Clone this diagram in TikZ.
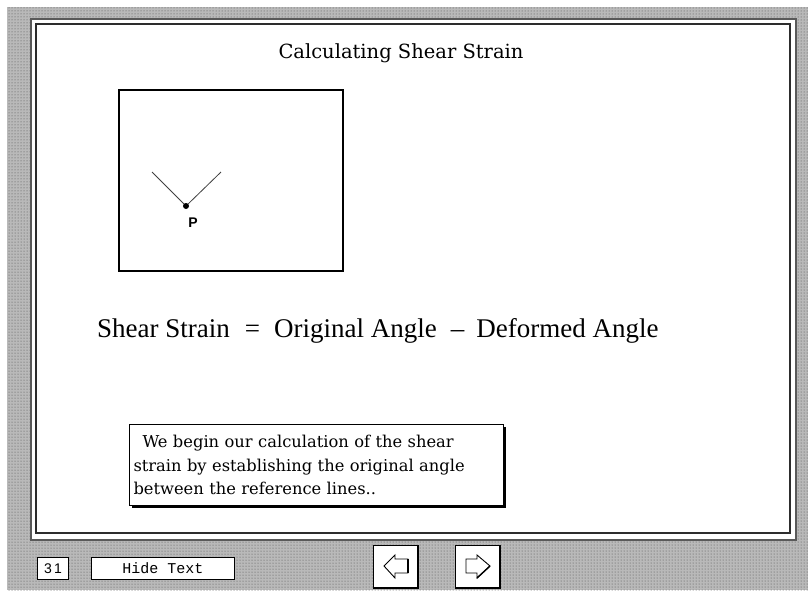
\documentclass[tikz,border=0pt]{standalone}
\usepackage{fontspec}
\setmainfont{DejaVu Serif}
\newfontfamily\eqnfont{Liberation Serif}
\setsansfont{Liberation Sans}
\setmonofont{Liberation Mono}
\usetikzlibrary{patterns}

\tikzset{
  btn/.style={draw,line width=1pt,fill=white,inner sep=0pt,anchor=north west},
  navbtn/.style={btn,minimum width=44,minimum height=42},
  arrowshape/.style={draw,fill=white,line width=0.9pt,line join=miter}
}

\begin{document}
\begin{tikzpicture}[x=1pt,y=-1pt]
\useasboundingbox (0,0) rectangle (808,590);
\fill[gray!55] (7,7) rectangle (808,590);
\fill[pattern=dots,pattern color=black!70] (7,7) rectangle (808,590);

% frame
\draw[gray!70!black,line width=1.2pt,fill=white] (31,19) rectangle (796,540);
\draw[gray!35!black,line width=1.6pt] (36,24) rectangle (790,533);

\node[font=\fontsize{19.5}{22}\selectfont] (title) at (401,53) {Calculating Shear Strain};

% reference lines at P
\node[draw,line width=2pt,minimum width=224,minimum height=181,anchor=north west] (figbox) at (118,89) {};
\coordinate (P) at (186,206);
\coordinate (refL) at (152,172);
\coordinate (refR) at (221,172);
\draw[gray!50!black,line width=0.8pt] (refL) -- (P) -- (refR);
\fill (P) circle (3);
\node[font=\sffamily\bfseries\fontsize{14}{16}\selectfont] (plabel) at (193,223) {P};

\node[font=\eqnfont\fontsize{27}{30}\selectfont,anchor=base west,inner sep=0pt] (eqn) at (97,337)
  {Shear Strain\hspace{15pt}=\hspace{14pt}Original Angle\hspace{14pt}\textendash\hspace{12pt}Deformed Angle};

% text box
\fill (132,427) rectangle (506,508);
\node[draw,line width=1pt,fill=white,anchor=north west,minimum width=374,minimum height=81,
  text width=366,inner xsep=4,inner ysep=3,align=left,font=\fontsize{16.3}{23.5}\selectfont] (note) at (129,424)
  {\hspace*{9pt}We begin our calculation of the shear\\strain by establishing the original angle\\between the reference lines..};

% bottom bar
\node[btn,minimum width=31,minimum height=22,font=\sffamily\fontsize{14}{16}\selectfont] (pagenum) at (37,557) {3\,1};
\node[btn,minimum width=143,minimum height=22,font=\ttfamily\fontsize{15}{17}\selectfont] (hidetext) at (91,557) {Hide Text};
\node[navbtn] (prevbtn) at (373,545) {};
\node[navbtn] (nextbtn) at (455,545) {};
\draw[line width=1.2pt] (prevbtn.south west) -- (prevbtn.south east) -- (prevbtn.north east);
\draw[line width=1.2pt] (nextbtn.south west) -- (nextbtn.south east) -- (nextbtn.north east);

\draw[arrowshape] (384,566) -- (395,555) -- (395,559) -- (408,559) -- (408,573) -- (395,573) -- (395,578) -- cycle;
\draw[line width=1.2pt] (408,559) -- (408,573);
\draw[arrowshape] (466,559) -- (477,559) -- (477,555) -- (490,566) -- (477,578) -- (477,573) -- (466,573) -- cycle;
\draw[line width=1.4pt] (490,566) -- (477,578);
\end{tikzpicture}
\end{document}
